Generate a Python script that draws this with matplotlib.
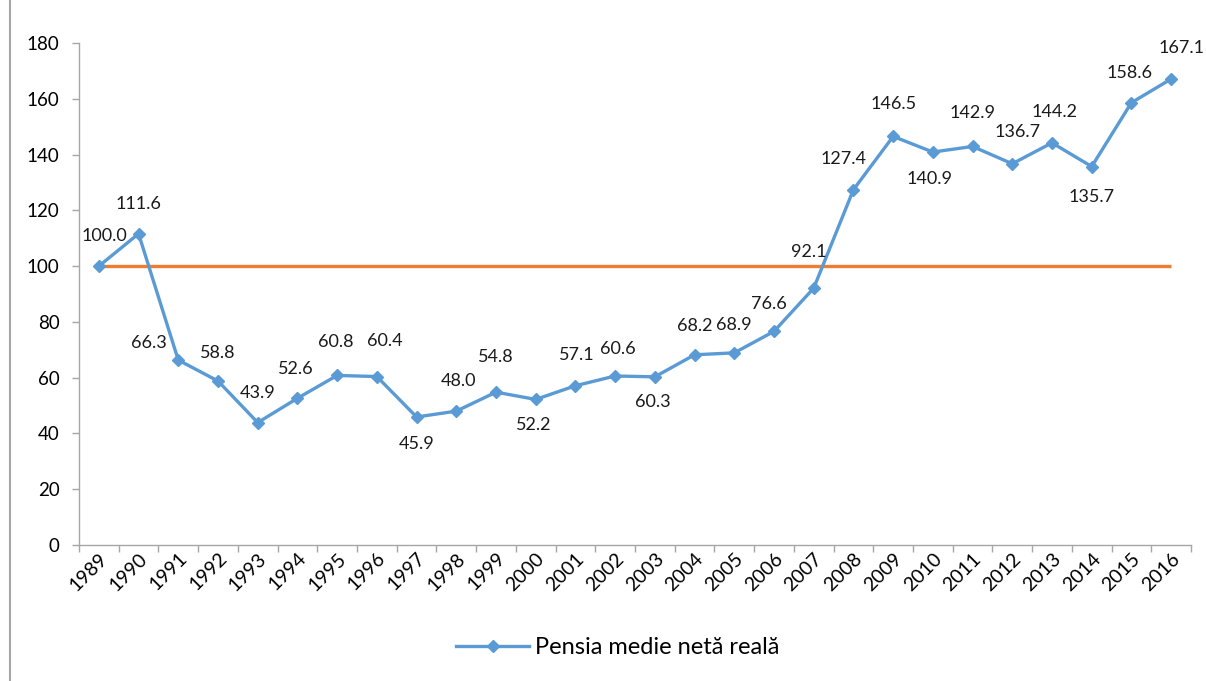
import matplotlib.pyplot as plt
import matplotlib.transforms as mtransforms
from matplotlib.lines import Line2D
import numpy as np

plt.rcParams["font.family"] = ["Lato", "DejaVu Sans"]

years = [str(y) for y in range(1989, 2017)]
pensie = [100.0, 111.6, 66.3, 58.8, 43.9, 52.6, 60.8, 60.4, 45.9, 48.0,
          54.8, 52.2, 57.1, 60.6, 60.3, 68.2, 68.9, 76.6, 92.1, 127.4,
          146.5, 140.9, 142.9, 136.7, 144.2, 135.7, 158.6, 167.1]
baza = [100] * len(years)
label_text = "Pensia medie netă reală"

# label offsets in pixels (dx, dy) relative to the point, screen y up
lbl_off = [(6, 30), (0, 30), (-29, 17), (0, 28), (0, 30), (-2, 29), (-1, 33),
           (8, 36), (0, -27), (2, 30), (0, 35), (-2, -26), (1, 31), (3, 27),
           (-2, -25), (0, 29), (0, 28), (-5, 27), (-5, 36), (-10, 31),
           (0, 32), (-3, -27), (0, 33), (5, 32), (3, 31), (0, -30), (-2, 30),
           (10, 31)]

BLUE = "#5B9BD5"
ORANGE = "#ED7D31"
GRAY = "#A6A6A6"


def main():
    fig = plt.figure(figsize=(12.06, 6.81), dpi=100)
    ax = fig.add_axes([79 / 1206, 1 - 545 / 681, (1191 - 79) / 1206, (545 - 43) / 681])
    x = np.arange(len(years))

    ax.plot(x, baza, color=ORANGE, lw=2.4, solid_capstyle="butt", zorder=2)
    ax.plot(x, pensie, color=BLUE, lw=2.4, marker="D", ms=6.5,
            label=label_text, zorder=3)

    for xi, v, (dx, dy) in zip(x, pensie, lbl_off):
        ax.annotate(f"{v:.1f}", (xi, v), xytext=(dx * 0.72, dy * 0.72),
                    textcoords="offset points", ha="center", va="center",
                    fontsize=13, color="#1a1a1a", zorder=4)

    ax.set_xlim(-0.5, len(years) - 0.5)
    ax.set_ylim(0, 180)
    ax.set_yticks(range(0, 181, 20))
    ax.set_xticks(np.arange(-0.5, len(years)), labels=[])
    ax.set_xticks(x, minor=True)
    ax.set_xticklabels(years, minor=True, rotation=45, ha="right", va="top",
                       rotation_mode="anchor", fontsize=14)
    off = mtransforms.ScaledTranslation(2 / 100, -18 / 100, fig.dpi_scale_trans)
    for t in ax.get_xticklabels(minor=True):
        t.set_transform(t.get_transform() + off)
    ax.tick_params(axis="x", which="minor", length=0)
    ax.tick_params(axis="x", which="major", length=5, color=GRAY, width=1)
    ax.tick_params(axis="y", length=5, color=GRAY, width=1, labelsize=13.5, pad=9)

    for s in ["top", "right"]:
        ax.spines[s].set_visible(False)
    for s in ["left", "bottom"]:
        ax.spines[s].set_color(GRAY)
        ax.spines[s].set_linewidth(1)

    fig.legend(handles=[Line2D([], [], color=BLUE, lw=2.4, marker="D", ms=6.5)],
               labels=[label_text], loc="center",
               bbox_to_anchor=(618 / 1206, 1 - 648 / 681),
               frameon=False, fontsize=17, handlelength=3.1, handletextpad=0.25)

    fig.add_artist(Line2D([10 / 1206, 10 / 1206], [0, 1], color=GRAY, lw=1.5))

    fig.savefig("out.png", dpi=100)


if __name__ == "__main__":
    main()
